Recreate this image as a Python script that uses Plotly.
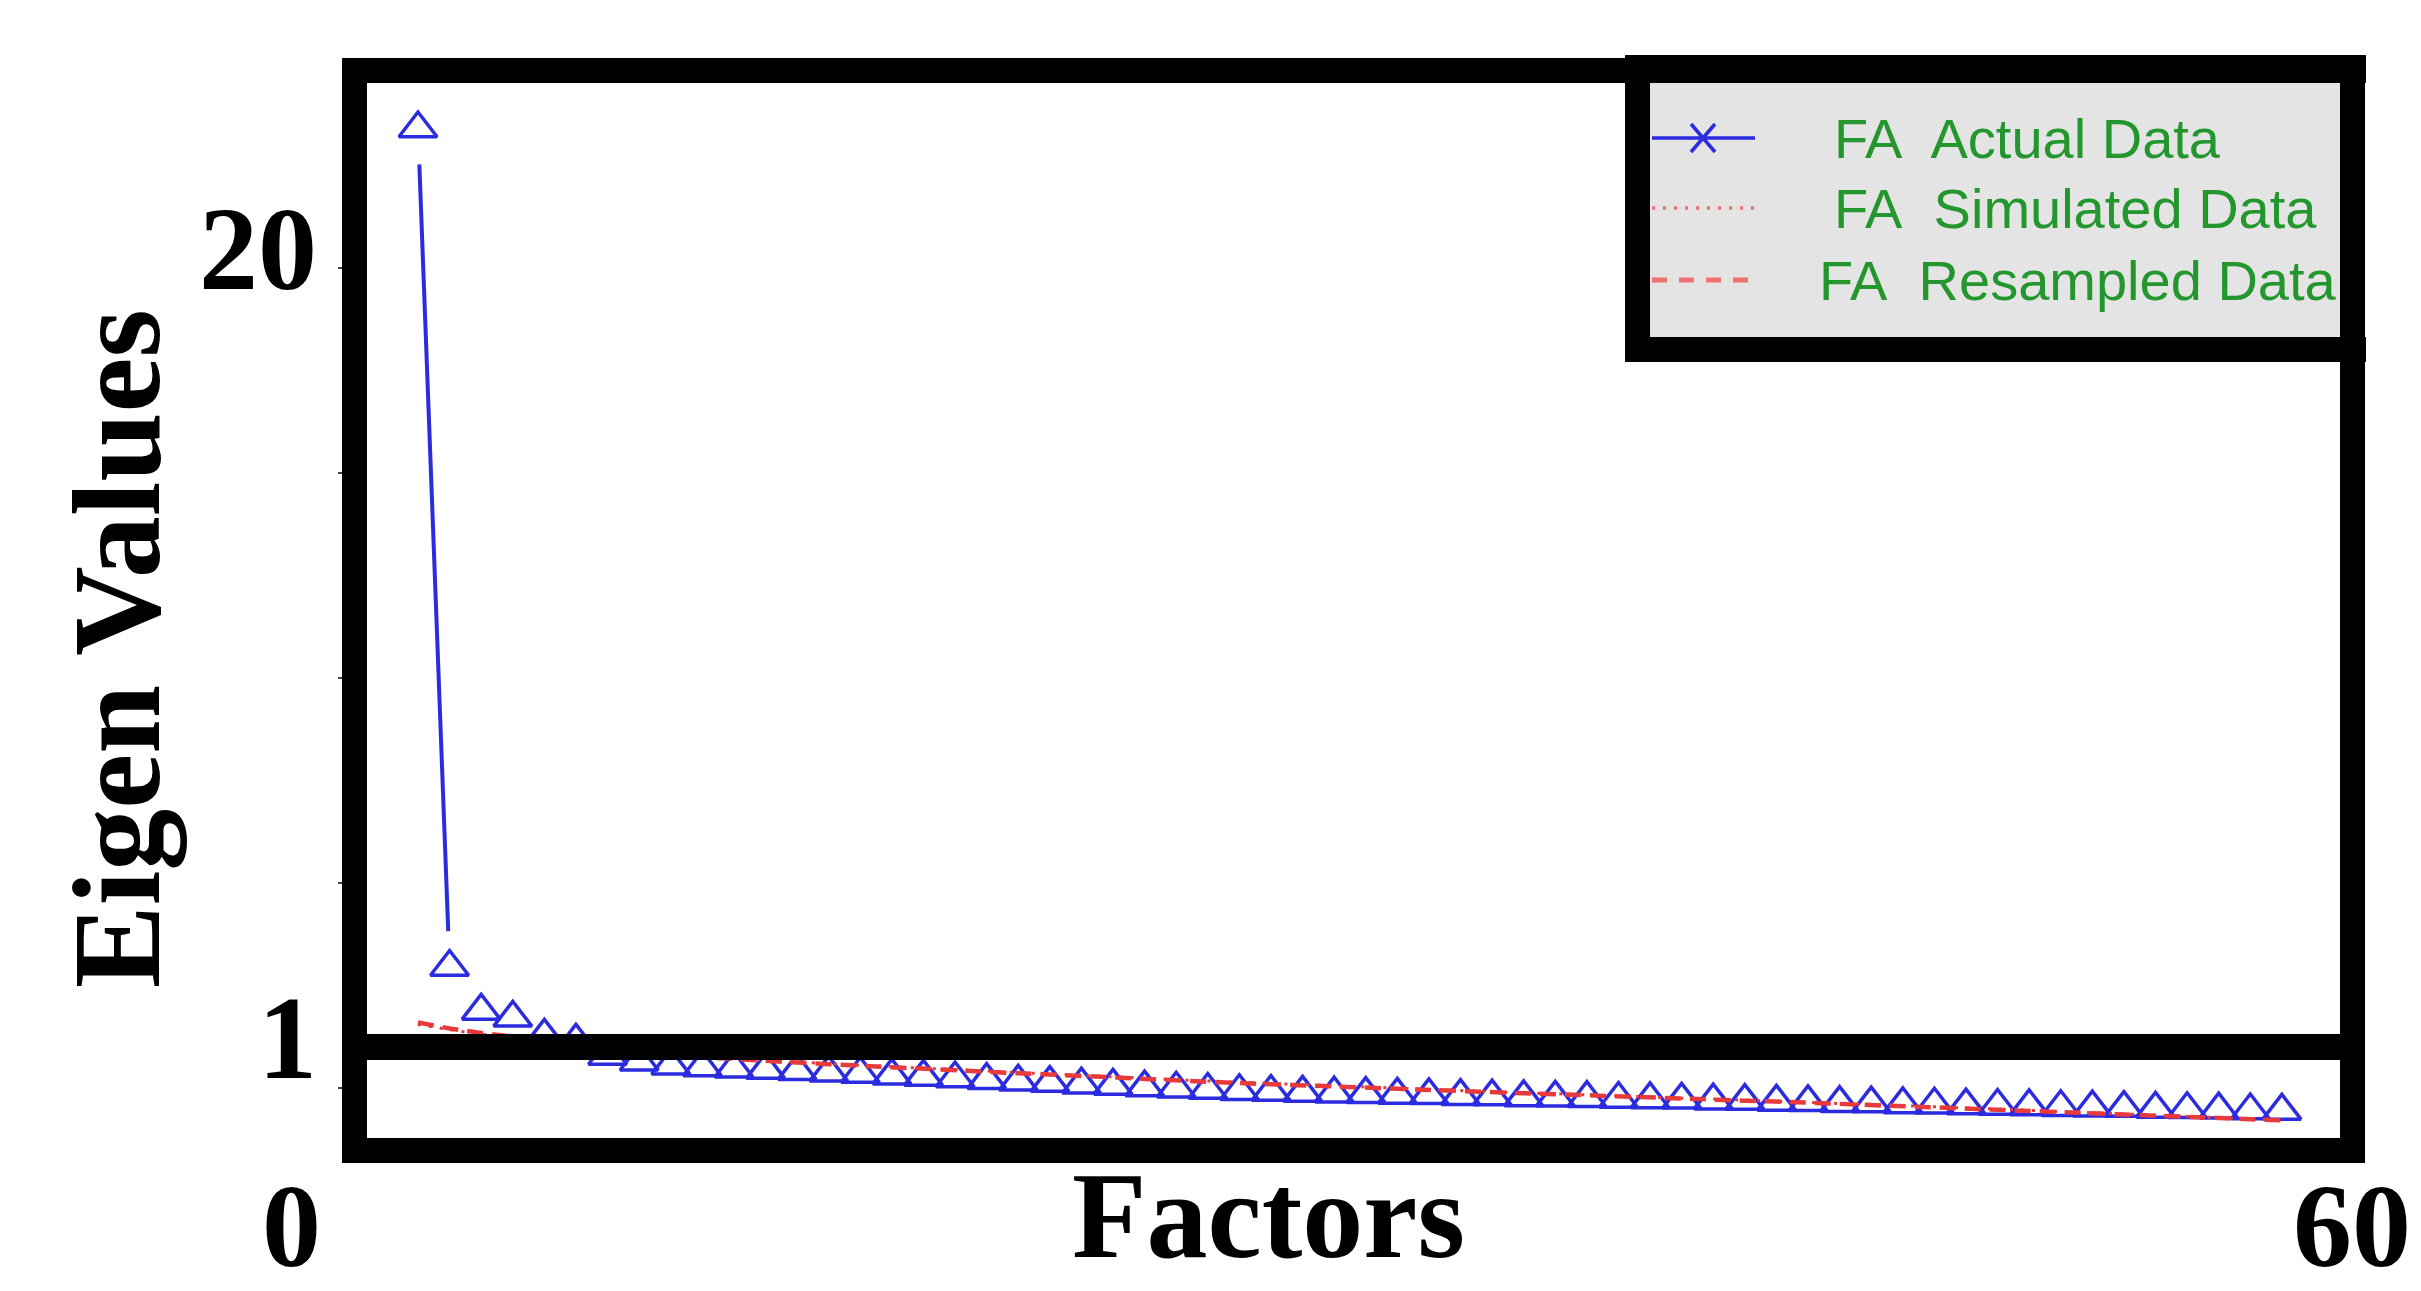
import plotly.graph_objects as go

# ---------------- data ----------------
factors = list(range(1, 61))

actual_eigen = [
    23.4, 2.95, 1.88, 1.71, 1.27, 1.15, 0.78, 0.64, 0.54, 0.50,
    0.47, 0.44, 0.41, 0.37, 0.34, 0.30, 0.27, 0.23, 0.19, 0.15,
    0.12, 0.08, 0.05, 0.01, -0.02, -0.05, -0.08, -0.10, -0.12, -0.14,
    -0.15, -0.17, -0.18, -0.20, -0.21, -0.23, -0.24, -0.25, -0.27, -0.28,
    -0.29, -0.31, -0.32, -0.34, -0.35, -0.37, -0.38, -0.40, -0.41, -0.43,
    -0.44, -0.45, -0.47, -0.48, -0.49, -0.51, -0.52, -0.53, -0.55, -0.56,
]

simulated_eigen = [
    1.55, 1.42, 1.31, 1.22, 1.14, 1.06, 0.98, 0.91, 0.84, 0.78,
    0.72, 0.67, 0.63, 0.59, 0.55, 0.52, 0.48, 0.45, 0.41, 0.38,
    0.34, 0.31, 0.27, 0.24, 0.20, 0.17, 0.14, 0.11, 0.08, 0.05,
    0.02, -0.01, -0.04, -0.06, -0.09, -0.12, -0.14, -0.17, -0.20, -0.22,
    -0.25, -0.27, -0.30, -0.32, -0.35, -0.38, -0.40, -0.43, -0.46, -0.49,
    -0.52, -0.54, -0.57, -0.60, -0.63, -0.66, -0.69, -0.72, -0.75, -0.78,
]

resampled_eigen = [
    1.60, 1.45, 1.34, 1.25, 1.16, 1.07, 0.98, 0.90, 0.82, 0.75,
    0.70, 0.66, 0.62, 0.58, 0.54, 0.51, 0.47, 0.44, 0.40, 0.36,
    0.33, 0.29, 0.25, 0.22, 0.18, 0.15, 0.12, 0.09, 0.06, 0.04,
    0.01, -0.02, -0.05, -0.07, -0.10, -0.13, -0.15, -0.18, -0.21, -0.24,
    -0.26, -0.28, -0.31, -0.33, -0.36, -0.39, -0.41, -0.44, -0.47, -0.50,
    -0.53, -0.55, -0.58, -0.61, -0.64, -0.67, -0.70, -0.73, -0.76, -0.79,
]

legend_labels = ["FA\u00a0 Actual Data", "FA\u00a0 Simulated Data", "FA\u00a0 Resampled Data"]
y_tick_labels = ["20", "1"]
x_tick_labels = ["0", "60"]
kaiser_level = 1

# ---------------- styling ----------------
BLUE = "#2b2bdf"
RED = "#e83a3a"
LEGEND_RED = "#f07070"
GREEN = "#23962d"
LEGEND_BG = "#e4e4e4"
SERIF = "Liberation Serif, Times New Roman, serif"
SANS = "Liberation Sans, Arial, sans-serif"

FIG_W, FIG_H = 2421, 1291
M_L, M_R, M_T, M_B = 367, 81, 83, 153
PLOT_W = FIG_W - M_L - M_R
PLOT_H = FIG_H - M_T - M_B
FRAME = 25


def px(x):
    """page x (pixels) -> paper fraction"""
    return (x - M_L) / PLOT_W


def py(y):
    """page y (pixels, from top) -> paper fraction"""
    return (FIG_H - M_B - y) / PLOT_H


fig = go.Figure()

# connecting line of the actual eigenvalues
fig.add_trace(go.Scatter(
    x=factors, y=actual_eigen, mode="lines",
    line=dict(color=BLUE, width=4), showlegend=False, hoverinfo="skip",
))
# white halo around each point so the line stops short of the symbols
fig.add_trace(go.Scatter(
    x=factors, y=actual_eigen, mode="markers",
    marker=dict(symbol="circle", size=72, color="white", line=dict(width=0)),
    showlegend=False, hoverinfo="skip",
))
# open triangles for the actual eigenvalues
fig.add_trace(go.Scatter(
    x=factors, y=actual_eigen, mode="markers",
    marker=dict(symbol="triangle-up-open", size=33, color=BLUE,
                line=dict(color=BLUE, width=3.5)),
    name=legend_labels[0], showlegend=False,
))
fig.add_trace(go.Scatter(
    x=factors, y=simulated_eigen, mode="lines",
    line=dict(color=RED, width=3, dash="3px,8px"),
    name=legend_labels[1], showlegend=False,
))
fig.add_trace(go.Scatter(
    x=factors, y=resampled_eigen, mode="lines",
    line=dict(color=RED, width=4.5, dash="16px,9px"),
    name=legend_labels[2], showlegend=False,
))

shapes = []
# heavy reference line at eigenvalue 1
shapes.append(dict(type="line", xref="paper", yref="y", x0=0, x1=1,
                   y0=kaiser_level, y1=kaiser_level,
                   line=dict(color="black", width=26), layer="above"))

# legend box: grey panel with heavy black border
shapes.append(dict(type="rect", xref="paper", yref="paper",
                   x0=px(1650), x1=px(2340), y0=py(337), y1=py(83),
                   fillcolor=LEGEND_BG, line=dict(width=0), layer="above"))
shapes.append(dict(type="rect", xref="paper", yref="paper",
                   x0=px(1625), x1=px(1650), y0=py(362), y1=py(55),
                   fillcolor="black", line=dict(width=0), layer="above"))
shapes.append(dict(type="rect", xref="paper", yref="paper",
                   x0=px(1625), x1=px(2366), y0=py(362), y1=py(337),
                   fillcolor="black", line=dict(width=0), layer="above"))
shapes.append(dict(type="rect", xref="paper", yref="paper",
                   x0=px(1625), x1=px(2366), y0=py(83), y1=py(55),
                   fillcolor="black", line=dict(width=0), layer="above"))

# legend samples
row_y = [138, 208, 280]
sample_x0, sample_x1 = 1652, 1755
shapes.append(dict(type="line", xref="paper", yref="paper",
                   x0=px(sample_x0), x1=px(sample_x1), y0=py(row_y[0]), y1=py(row_y[0]),
                   line=dict(color=BLUE, width=3.5), layer="above"))
cx, cy, arm = 1703, row_y[0], 12
shapes.append(dict(type="line", xref="paper", yref="paper",
                   x0=px(cx - arm), x1=px(cx + arm), y0=py(cy - arm - 2), y1=py(cy + arm + 2),
                   line=dict(color=BLUE, width=3.5), layer="above"))
shapes.append(dict(type="line", xref="paper", yref="paper",
                   x0=px(cx - arm), x1=px(cx + arm), y0=py(cy + arm + 2), y1=py(cy - arm - 2),
                   line=dict(color=BLUE, width=3.5), layer="above"))
shapes.append(dict(type="line", xref="paper", yref="paper",
                   x0=px(sample_x0), x1=px(sample_x1), y0=py(row_y[1]), y1=py(row_y[1]),
                   line=dict(color=LEGEND_RED, width=3.5, dash="3px,8px"), layer="above"))
shapes.append(dict(type="line", xref="paper", yref="paper",
                   x0=px(sample_x0), x1=px(sample_x1), y0=py(row_y[2]), y1=py(row_y[2]),
                   line=dict(color=LEGEND_RED, width=5, dash="15px,12px"), layer="above"))

annotations = []
for label, yy, xx in zip(legend_labels, row_y, [1832, 1832, 1817]):
    annotations.append(dict(text=label, xref="paper", yref="paper",
                            x=px(xx), y=py(yy), xanchor="left", yanchor="middle",
                            showarrow=False, font=dict(family=SANS, size=56, color=GREEN)))


# axis numbers and titles
def big_text(text, x, y, size, angle=0):
    return dict(text="<b>%s</b>" % text, xref="paper", yref="paper",
                x=px(x), y=py(y), xanchor="center", yanchor="middle",
                showarrow=False, textangle=angle,
                font=dict(family=SERIF, size=size, color="black"))


annotations.append(big_text(y_tick_labels[0], 258, 250, 118))
annotations.append(big_text(y_tick_labels[1], 287, 1038, 118))
annotations.append(big_text(x_tick_labels[0], 291, 1226, 118))
annotations.append(big_text(x_tick_labels[1], 2352, 1226, 118))
annotations.append(big_text("Factors", 1268, 1215, 122))
annotations.append(big_text("Eigen Values", 118, 649, 124, angle=-90))

fig.update_layout(
    width=FIG_W, height=FIG_H,
    margin=dict(l=M_L, r=M_R, t=M_T, b=M_B, pad=0),
    paper_bgcolor="white", plot_bgcolor="white",
    showlegend=False,
    shapes=shapes, annotations=annotations,
    xaxis=dict(range=[-0.614, 61.84], showgrid=False, zeroline=False,
               showticklabels=False, ticks="",
               showline=True, linecolor="black", linewidth=FRAME, mirror=True),
    yaxis=dict(range=[-1.22, 24.51], showgrid=False, zeroline=False,
               showticklabels=False, tickvals=[0, 5, 10, 15, 20],
               ticks="outside", ticklen=4, tickwidth=2, tickcolor="#444",
               showline=True, linecolor="black", linewidth=FRAME, mirror=True),
)

fig.write_html("out.html", config={"displayModeBar": False})
